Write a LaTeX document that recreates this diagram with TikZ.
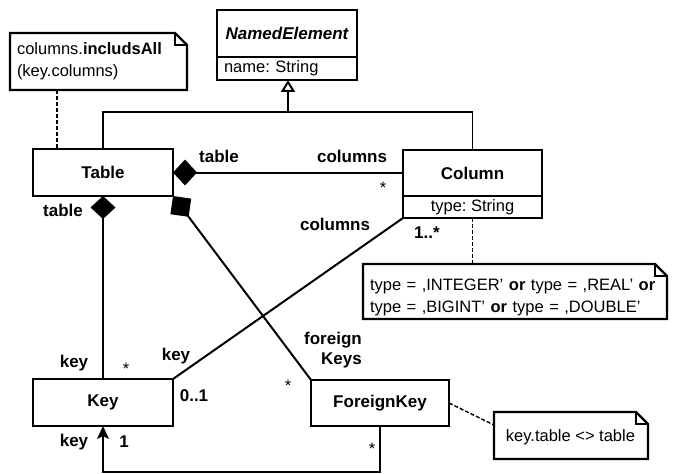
\documentclass[tikz,border=0pt]{standalone}
\usepackage{fontspec}
\setmainfont{Liberation Sans}
\usetikzlibrary{arrows.meta}

\newcommand\umlfont{\fontsize{16.5}{22}\selectfont\frenchspacing}
\newcommand\umlbold{\fontsize{17}{19.5}\selectfont\bfseries\frenchspacing}

% note outline with a folded top-right corner
\newcommand\dogear[1]{%
  \draw[noteline] (#1.south west) -- (#1.north west) -- ([xshift=-12pt]#1.north east)
    -- ([yshift=-12pt]#1.north east) -- (#1.south east) -- cycle;
  \draw[foldline] ([xshift=-12pt]#1.north east) |- ([yshift=-12pt]#1.north east);}

% class outline: name and attribute compartments with a thin divider
\newcommand\classframe[2]{%
  \draw[line width=2.3pt] (#1.north west) rectangle (#2.south east);
  \draw[line width=1.5pt] (#2.north west) -- (#2.north east);}

\begin{document}
\begin{tikzpicture}[x=1pt,y=-1pt,
  classbox/.style={draw, line width=2.3pt, inner sep=0pt, outer sep=0pt, font=\umlbold},
  compbox/.style={inner sep=0pt, outer sep=0pt, font=\umlbold},
  attrbox/.style={inner sep=0pt, outer sep=0pt, font=\umlfont},
  notetext/.style={inner sep=0pt, font=\umlfont},
  noteframe/.style={draw=none, outer sep=0pt, inner sep=0pt},
  noteline/.style={line width=2.3pt, line join=miter},
  foldline/.style={line width=2pt},
  conn/.style={line width=2pt},
  thinconn/.style={line width=1.4pt},
  noteconn/.style={line width=1.4pt, dash pattern=on 4pt off 2pt},
  lbl/.style={inner sep=0pt, font=\umlbold},
  mult/.style={inner sep=0pt, font=\umlfont}
]
\useasboundingbox (0,0) rectangle (676,473);

% classes
\node[compbox, minimum width=140pt, minimum height=47pt] (ne) at (287,33.5) {\itshape NamedElement};
\node[attrbox, minimum width=140pt, minimum height=23pt, text width=126pt, align=left, anchor=north] (neattr) at (ne.south) {name: String};
\classframe{ne}{neattr}

\node[classbox, minimum width=140pt, minimum height=47pt] (table) at (103,172.5) {Table};

\node[compbox, minimum width=139pt, minimum height=46pt] (col) at (472.5,173) {Column};
\node[attrbox, minimum width=139pt, minimum height=22pt, anchor=north] (colattr) at (col.south) {type: String};
\classframe{col}{colattr}

\node[classbox, minimum width=140pt, minimum height=47pt] (key) at (103,402.5) {Key};
\node[classbox, minimum width=138pt, minimum height=46pt] (fk) at (380,403) {ForeignKey};

% notes
\node[noteframe, minimum width=177pt, minimum height=57pt] (n1) at (98.5,61.5) {};
\node[notetext, text width=163pt, align=left] (n1t) at (n1.center) {columns.\textbf{includsAll}\\(key.columns)};
\node[noteframe, minimum width=304pt, minimum height=55pt] (n2) at (515,291.5) {};
\node[notetext, text width=290pt, align=left] (n2t) at (515,297) {type = ,INTEGER’ \textbf{or} type = ,REAL’ \textbf{or}\\type = ,BIGINT’ \textbf{or} type = ,DOUBLE’};
\node[noteframe, minimum width=154pt, minimum height=47pt] (n3) at (571,435.5) {};
\node[notetext] (n3t) at (570.5,437) {key.table <> table};
\dogear{n1}
\dogear{n2}
\dogear{n3}

% generalization
\coordinate (gen) at (288,112);
\draw[thinconn, -{Triangle[open, length=12pt, width=14pt, line width=2pt]}] (gen) -- (gen |- neattr.south);
\draw[thinconn] (table.north) |- (gen) -| (col.north);

% associations
\draw[conn, {Diamond[length=24pt, width=26pt]}-] (table.east) -- (table.east -| col.west);
\draw[thinconn, {Diamond[length=23pt, width=25pt]}-] (table.south) -- (key.north);
\draw[conn, {Diamond[length=26pt, width=26pt]}-] (table.south east) -- (fk.north west);
\draw[conn] (colattr.south west) -- (key.north east);
\coordinate (loop) at (0,472);
\draw[thinconn, -{Stealth[length=13pt, width=12pt, inset=3pt]}] (fk.south) |- (loop -| key.south) -- (key.south);

% note anchors
\draw[noteconn] (n1.south -| 57,0) -- (table.north -| 57,0);
\draw[noteconn] (colattr.south) -- (n2.north -| colattr.south);
\draw[noteconn] (fk.east) -- ([yshift=10.5pt]n3.west);

% role names and multiplicities
\node[lbl] (r1) at (219,156) {table};
\node[lbl] (r2) at (352,156) {columns};
\node[mult] (m1) at (383,188) {*};
\node[lbl] (r3) at (63,210) {table};
\node[lbl] (r4) at (335,224) {columns};
\node[lbl] (m2) at (427,233) {1..*};
\node[lbl] (r5) at (74,363) {key};
\node[mult] (m3) at (126,369) {*};
\node[lbl] (r6) at (176,356) {key};
\node[lbl] (m4) at (194,396) {0..1};
\node[lbl] (r7) at (74,442) {key};
\node[lbl] (m5) at (124,442) {1};
\node[lbl, align=right, anchor=east] (r8) at (362,350) {foreign\\Keys};
\node[mult] (m6) at (288,386) {*};
\node[mult] (m7) at (372,449) {*};
\end{tikzpicture}
\end{document}
